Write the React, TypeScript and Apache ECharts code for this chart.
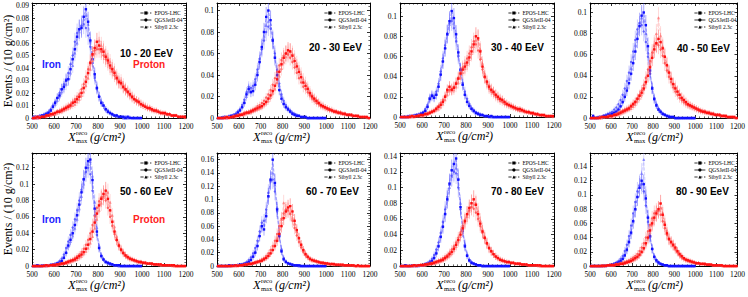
import React, { useEffect, useRef } from "react";
import * as echarts from "echarts";

// bin centres (g/cm^2), 10 g/cm^2 bins
const xBins = [
  505, 515, 525, 535, 545, 555, 565, 575, 585, 595,
  605, 615, 625, 635, 645, 655, 665, 675, 685, 695,
  705, 715, 725, 735, 745, 755, 765, 775, 785, 795,
  805, 815, 825, 835, 845, 855, 865, 875, 885, 895,
  905, 915, 925, 935, 945, 955, 965, 975, 985, 995,
  1005, 1015, 1025, 1035, 1045, 1055, 1065, 1075, 1085, 1095,
  1105, 1115, 1125, 1135, 1145, 1155, 1165, 1175, 1185, 1195,
];

const models = ["EPOS-LHC", "QGSJetII-04", "Sibyll 2.3c"];
const panelLabels = ["10 - 20 EeV", "20 - 30 EeV", "30 - 40 EeV", "40 - 50 EeV", "50 - 60 EeV", "60 - 70 EeV", "70 - 80 EeV", "80 - 90 EeV"];
const yMaxes = [0.092, 0.107, 0.113, 0.109, 0.138, 0.17, 0.144, 0.159];
const ySteps = [0.01, 0.02, 0.02, 0.02, 0.02, 0.02, 0.02, 0.02];
const xTicks = [500, 600, 700, 800, 900, 1000, 1100, 1200];
// approximate number of simulated events per histogram (sets the Poisson error bars)
const eventsPerHistogram = [1200, 1100, 1000, 950, 800, 650, 650, 600];

// ---- 10 - 20 EeV
const fe1E = [0,.001,0,.001,.002,.002,.003,.004,.006,.009, .012,.016,.018,.023,.025,.030,.031,.039,.047,.055, .065,.071,.072,.081,.087,.077,.062,.047,.035,.024, .017,.012,.010,.007,.005,.004,.003,.002,.002,.001, .001,.001,0,.001,0,0,0,0,0,0];
const fe1Q = [.001,0,.001,.002,.002,.003,.004,.005,.007,.010, .013,.016,.020,.023,.027,.031,.036,.043,.050,.061, .068,.071,.074,.075,.072,.066,.057,.044,.032,.023, .017,.013,.010,.007,.006,.004,.003,.002,.002,.001, .001,0,.001,0,0,0,0,0,0,0];
const fe1S = [0,.001,.001,.001,.002,.003,.003,.005,.006,.009, .011,.014,.017,.021,.024,.027,.032,.036,.042,.052, .060,.069,.074,.079,.082,.075,.061,.047,.034,.025, .018,.013,.010,.007,.005,.004,.003,.002,.001,.001, .001,0,0,0,.001,0,0,0,0,0];
const p1E = [0,0,.001,0,.001,.001,.002,.002,.003,.003, .004,.005,.005,.006,.007,.008,.009,.010,.012,.013, .015,.017,.020,.024,.029,.036,.044,.051,.056,.061, .058,.055,.053,.049,.046,.042,.039,.036,.032,.029, .028,.025,.023,.021,.019,.017,.015,.014,.013,.011, .010,.009,.008,.008,.007,.006,.006,.005,.004,.004, .004,.003,.003,.002,.002,.002,.001,.001,.001,.001];
const p1Q = [0,.001,0,.001,.001,.001,.002,.002,.003,.004, .004,.005,.006,.007,.008,.009,.010,.011,.013,.015, .017,.019,.023,.027,.033,.039,.045,.050,.054,.055, .055,.053,.050,.047,.044,.040,.037,.034,.031,.028, .027,.024,.022,.020,.018,.016,.015,.013,.012,.011, .010,.009,.008,.007,.006,.006,.005,.005,.004,.004, .003,.003,.003,.002,.002,.002,.001,.001,.001,0];
const p1S = [0,0,0,.001,.001,.001,.001,.002,.002,.003, .003,.004,.005,.005,.006,.007,.008,.009,.010,.011, .013,.015,.018,.021,.026,.032,.039,.046,.052,.057, .062,.058,.055,.051,.048,.045,.041,.038,.034,.031, .030,.027,.024,.022,.020,.018,.016,.014,.013,.012, .011,.010,.009,.008,.007,.006,.006,.005,.005,.004, .004,.003,.003,.002,.002,.002,.001,.001,.001,.001];

// ---- 20 - 30 EeV
const fe2E = [0,0,0,.001,0,.001,.002,.002,.003,.005, .007,.010,.014,.022,.027,.024,.025,.031,.040,.052, .066,.080,.094,.100,.091,.072,.056,.040,.026,.018, .013,.010,.008,.006,.004,.003,.002,.002,.001,.001, .001,0,0,0,0,0,0,0,0,0];
const fe2Q = [0,0,.001,.001,.001,.002,.002,.003,.004,.006, .008,.012,.017,.024,.029,.028,.030,.036,.045,.055, .064,.072,.080,.085,.083,.073,.060,.045,.032,.022, .016,.012,.009,.007,.005,.004,.003,.002,.001,.001, .001,0,0,0,0,0,0,0,0,0];
const fe2S = [0,0,0,.001,.001,.001,.002,.003,.004,.005, .008,.011,.015,.020,.025,.026,.028,.034,.043,.054, .065,.076,.086,.090,.087,.074,.058,.043,.030,.021, .015,.011,.008,.006,.004,.003,.002,.002,.001,.001, .001,0,0,0,0,0,0,0,0,0];
const p2E = [0,0,0,0,.001,0,.001,.001,.002,.002, .003,.003,.004,.005,.005,.006,.007,.008,.009,.010, .011,.013,.015,.018,.021,.025,.030,.036,.043,.050, .056,.060,.063,.062,.058,.053,.048,.043,.038,.033, .030,.027,.023,.020,.018,.016,.014,.012,.011,.010, .009,.008,.007,.006,.006,.005,.005,.004,.004,.003, .003,.003,.002,.002,.002,.001,.001,.001,.001,0];
const p2Q = [0,0,0,.001,0,.001,.001,.002,.002,.003, .003,.004,.005,.005,.006,.007,.008,.009,.011,.012, .014,.016,.019,.022,.026,.031,.037,.043,.049,.054, .058,.060,.059,.056,.052,.047,.042,.037,.033,.029, .027,.024,.021,.018,.016,.014,.013,.011,.010,.009, .008,.007,.007,.006,.005,.005,.004,.004,.003,.003, .003,.002,.002,.002,.001,.001,.001,.001,0,0];
const p2S = [0,0,0,0,0,.001,.001,.001,.001,.002, .002,.003,.003,.004,.005,.005,.006,.007,.008,.009, .010,.012,.014,.016,.019,.023,.027,.033,.039,.046, .052,.057,.061,.062,.060,.056,.051,.046,.041,.036, .033,.029,.025,.022,.019,.017,.015,.013,.012,.010, .009,.008,.008,.007,.006,.005,.005,.004,.004,.003, .003,.003,.002,.002,.002,.001,.001,.001,.001,0];

// ---- 30 - 40 EeV
const fe3E = [0,0,0,0,.001,.001,.001,.002,.002,.003, .004,.006,.010,.018,.021,.019,.022,.030,.042,.055, .068,.082,.095,.105,.098,.082,.064,.047,.032,.022, .015,.011,.008,.006,.004,.003,.002,.002,.001,.001, 0,.001,0,0,0,0,0,0,0,0];
const fe3Q = [0,0,0,.001,.001,.001,.002,.002,.003,.004, .005,.008,.012,.019,.022,.021,.025,.033,.045,.058, .071,.083,.093,.095,.088,.075,.060,.046,.034,.025, .018,.013,.009,.007,.005,.004,.003,.002,.001,.001, .001,0,0,0,0,0,0,0,0,0];
const fe3S = [0,0,0,0,.001,.001,.001,.002,.002,.003, .004,.007,.011,.017,.020,.020,.023,.031,.043,.056, .069,.082,.092,.098,.093,.079,.062,.046,.033,.023, .016,.012,.009,.006,.004,.003,.002,.002,.001,.001, .001,0,0,0,0,0,0,0,0,0];
const p3E = [0,0,0,0,0,.001,0,.001,.001,.002, .002,.003,.003,.004,.005,.006,.008,.010,.012,.015, .020,.027,.030,.027,.029,.033,.038,.043,.047,.050, .054,.059,.065,.072,.080,.078,.065,.050,.040,.035, .030,.027,.025,.022,.020,.018,.017,.015,.013,.012, .011,.010,.009,.008,.008,.007,.006,.005,.005,.004, .004,.003,.003,.002,.002,.002,.001,.001,.001,.001];
const p3Q = [0,0,0,0,.001,.001,.001,.001,.002,.002, .002,.003,.004,.005,.006,.007,.009,.011,.014,.017, .021,.025,.027,.028,.030,.034,.039,.044,.049,.053, .058,.063,.069,.075,.072,.066,.057,.047,.039,.033, .028,.025,.023,.020,.018,.016,.015,.013,.012,.011, .010,.009,.008,.007,.006,.006,.005,.005,.004,.004, .003,.003,.002,.002,.002,.001,.001,.001,.001,0];
const p3S = [0,0,0,0,0,0,.001,.001,.001,.001, .001,.002,.003,.004,.005,.006,.007,.008,.010,.013, .017,.022,.026,.026,.027,.030,.034,.039,.044,.048, .052,.057,.063,.070,.076,.077,.067,.053,.043,.036, .032,.028,.025,.023,.021,.019,.017,.015,.014,.012, .011,.010,.009,.008,.007,.007,.006,.005,.005,.004, .004,.003,.003,.002,.002,.002,.001,.001,.001,.001];

// ---- 40 - 50 EeV
const fe4E = [0,.002,0,0,.001,.001,.002,.002,.003,.003, .004,.005,.006,.008,.011,.015,.020,.026,.033,.042, .052,.063,.075,.087,.097,.100,.088,.068,.045,.028, .018,.012,.008,.006,.004,.003,.002,.001,.001,.001, 0,0,0,0,0,0,0,0,0,0];
const fe4Q = [0,0,0,.001,.001,.001,.002,.003,.004,.005, .006,.008,.010,.013,.017,.022,.028,.035,.043,.053, .063,.074,.084,.090,.088,.082,.072,.058,.042,.029, .019,.013,.009,.006,.004,.003,.002,.002,.001,.001, 0,0,0,0,0,0,0,0,0,0];
const fe4S = [0,0,0,0,.001,.001,.001,.002,.002,.003, .004,.005,.007,.009,.012,.017,.022,.029,.037,.047, .058,.069,.080,.090,.095,.092,.080,.062,.043,.028, .018,.012,.008,.006,.004,.003,.002,.001,.001,.001, 0,0,0,0,0,0,0,0,0,0];
const p4E = [0,0,0,0,0,.001,.001,.001,.001,.002, .002,.003,.003,.004,.005,.006,.007,.008,.009,.011, .013,.015,.018,.021,.024,.028,.034,.040,.048,.057, .065,.071,.075,.072,.066,.058,.050,.043,.037,.032, .028,.025,.022,.019,.017,.015,.013,.012,.011,.010, .009,.008,.007,.006,.006,.005,.005,.004,.004,.003, .003,.003,.002,.002,.002,.001,.001,.001,.001,0];
const p4Q = [0,0,0,0,.001,.001,.001,.001,.002,.002, .002,.003,.004,.005,.006,.007,.008,.009,.010,.012, .014,.016,.019,.022,.026,.031,.038,.046,.054,.062, .068,.070,.069,.065,.059,.052,.045,.039,.034,.029, .025,.022,.019,.017,.015,.013,.012,.011,.010,.009, .008,.007,.006,.006,.005,.005,.004,.004,.003,.003, .003,.002,.002,.002,.001,.001,.001,.001,0,0];
const p4S = [0,0,0,0,0,0,.001,.001,.001,.001, .001,.002,.003,.003,.004,.005,.006,.007,.008,.009, .011,.013,.016,.019,.022,.027,.033,.041,.050,.060, .070,.080,.095,.078,.068,.059,.051,.044,.038,.033, .030,.026,.023,.020,.018,.016,.014,.012,.011,.010, .009,.008,.007,.007,.006,.005,.005,.004,.004,.003, .003,.003,.002,.002,.002,.001,.001,.001,.001,0];

// ---- 50 - 60 EeV
const fe5E = [0,0,.001,0,0,.001,0,.001,.001,.002, .002,.003,.004,.006,.010,.016,.025,.032,.040,.050, .062,.075,.090,.106,.120,.128,.130,.105,.070,.042, .022,.012,.008,.005,.004,.003,.002,.001,.001,.001, 0,0,0,0,0,0,0,0,0,0];
const fe5Q = [0,0,0,0,.001,.001,.001,.001,.002,.002, .003,.004,.006,.009,.014,.022,.030,.038,.047,.057, .068,.080,.093,.105,.115,.120,.112,.092,.062,.038, .022,.013,.008,.005,.003,.002,.002,.001,.001,0, 0,0,0,0,0,0,0,0,0,0];
const fe5S = [0,0,0,0,0,.001,.001,.001,.001,.002, .002,.003,.005,.007,.011,.017,.024,.030,.037,.046, .057,.070,.085,.100,.115,.124,.128,.110,.078,.047, .025,.013,.008,.005,.003,.002,.002,.001,.001,0, 0,0,0,0,0,0,0,0,0,0];
const p5E = [0,0,0,0,0,0,.001,0,.001,.001, .001,.002,.002,.003,.003,.004,.005,.006,.007,.008, .010,.012,.014,.017,.021,.026,.033,.042,.053,.064, .074,.082,.088,.092,.082,.068,.054,.042,.032,.025, .020,.016,.013,.011,.009,.008,.007,.006,.005,.005, .004,.004,.003,.003,.003,.002,.002,.002,.002,.001, .001,.001,.001,.001,.001,0,0,0,0,0];
const p5Q = [0,0,0,0,0,.001,.001,.001,.001,.002, .002,.002,.003,.003,.004,.005,.006,.007,.008,.010, .012,.014,.017,.021,.026,.032,.040,.050,.061,.071, .079,.084,.085,.080,.071,.060,.049,.039,.031,.024, .019,.015,.012,.010,.009,.008,.007,.006,.005,.004, .004,.003,.003,.003,.002,.002,.002,.001,.001,.001, .001,.001,.001,0,0,0,0,0,0,0];
const p5S = [0,0,0,0,0,0,0,.001,.001,.001, .001,.001,.002,.002,.003,.003,.004,.005,.006,.007, .008,.010,.012,.015,.018,.022,.028,.036,.046,.057, .068,.077,.084,.088,.090,.078,.062,.048,.036,.027, .021,.017,.014,.011,.009,.008,.007,.006,.005,.005, .004,.004,.003,.003,.003,.002,.002,.002,.001,.001, .001,.001,.001,.001,0,0,0,0,0,0];

// ---- 60 - 70 EeV
const fe6E = [0,0,0,0,0,.001,0,.001,.001,.001, .002,.002,.003,.004,.006,.009,.014,.020,.030,.045, .060,.055,.075,.105,.130,.160,.125,.085,.045,.022, .010,.006,.004,.003,.002,.001,.001,.001,0,0, 0,0,0,0,0,0,0,0,0,0];
const fe6Q = [0,0,0,0,0,.001,.001,.001,.001,.002, .002,.003,.004,.006,.009,.013,.019,.027,.038,.052, .065,.068,.085,.110,.128,.130,.112,.082,.048,.025, .012,.007,.004,.003,.002,.001,.001,0,0,0, 0,0,0,0,0,0,0,0,0,0];
const fe6S = [0,0,0,0,0,0,.001,.001,.001,.001, .001,.002,.003,.005,.007,.010,.015,.022,.032,.046, .060,.062,.080,.105,.128,.140,.122,.088,.050,.025, .012,.007,.004,.003,.002,.001,.001,0,0,0, 0,0,0,0,0,0,0,0,0,0];
const p6E = [0,0,0,0,0,0,0,0,.001,0, .001,.001,.002,.002,.003,.003,.004,.005,.006,.007, .008,.010,.012,.015,.019,.024,.030,.038,.048,.060, .072,.082,.088,.090,.082,.068,.054,.042,.032,.024, .018,.014,.011,.009,.008,.007,.006,.005,.005,.004, .004,.003,.003,.003,.002,.002,.002,.002,.001,.001, .001,.001,.001,0,.001,0,0,0,0,0];
const p6Q = [0,0,0,0,0,0,.001,0,.001,.001, .001,.002,.002,.003,.003,.004,.005,.006,.007,.008, .010,.012,.015,.019,.024,.030,.038,.048,.060,.071, .079,.085,.084,.078,.068,.057,.046,.036,.028,.021, .016,.013,.010,.009,.008,.007,.006,.005,.004,.004, .003,.003,.003,.002,.002,.002,.001,.001,.001,.001, .001,.001,0,0,0,0,0,0,0,0];
const p6S = [0,0,0,0,0,0,0,.001,0,.001, .001,.001,.002,.002,.003,.003,.004,.005,.006,.007, .008,.010,.013,.016,.020,.025,.032,.042,.055,.070, .095,.085,.084,.080,.072,.063,.052,.041,.032,.024, .018,.014,.011,.009,.008,.007,.006,.005,.004,.004, .003,.003,.003,.002,.002,.002,.002,.001,.001,.001, .001,.001,.001,0,0,0,0,0,0,0];

// ---- 70 - 80 EeV
const fe7E = [0,0,.001,0,0,.001,0,.001,0,.001, .001,.002,.003,.004,.006,.010,.016,.025,.037,.050, .066,.085,.105,.122,.130,.137,.110,.075,.045,.025, .013,.007,.004,.003,.002,.001,.001,0,0,0, 0,0,0,0,0,0,0,0,0,0];
const fe7Q = [0,0,0,0,0,.001,.001,.001,.001,.001, .002,.003,.004,.006,.009,.014,.021,.030,.042,.056, .072,.088,.103,.115,.120,.118,.100,.072,.046,.027, .014,.008,.005,.003,.002,.001,.001,0,0,0, 0,0,0,0,0,0,0,0,0,0];
const fe7S = [0,0,0,0,0,0,.001,0,.001,.001, .001,.002,.003,.005,.008,.012,.018,.027,.039,.052, .068,.084,.100,.114,.122,.125,.112,.080,.050,.028, .015,.008,.005,.003,.002,.001,.001,0,0,0, 0,0,0,0,0,0,0,0,0,0];
const p7E = [0,0,0,0,0,0,.001,0,.001,.001, .001,.002,.002,.003,.003,.004,.005,.006,.007,.008, .010,.012,.015,.018,.022,.027,.033,.040,.048,.057, .066,.074,.080,.085,.078,.066,.054,.044,.036,.029, .023,.019,.015,.012,.010,.008,.007,.006,.005,.005, .004,.004,.003,.003,.003,.002,.002,.002,.001,.001, .001,.001,.001,.001,0,0,0,0,0,0];
const p7Q = [0,0,0,0,0,.001,.001,.001,.001,.002, .002,.002,.003,.003,.004,.005,.006,.007,.008,.010, .012,.014,.017,.021,.025,.030,.036,.043,.051,.059, .066,.071,.075,.073,.068,.060,.051,.042,.035,.028, .022,.018,.015,.012,.010,.008,.007,.006,.005,.005, .004,.004,.003,.003,.002,.002,.002,.001,.001,.001, .001,.001,0,0,0,0,0,0,0,0];
const p7S = [0,0,0,0,0,0,0,.001,.001,.001, .001,.001,.002,.002,.003,.003,.004,.005,.006,.007, .009,.011,.013,.016,.020,.025,.031,.038,.046,.055, .063,.070,.076,.079,.080,.070,.058,.047,.038,.030, .024,.019,.016,.013,.011,.009,.008,.007,.006,.005, .004,.004,.003,.003,.003,.002,.002,.002,.001,.001, .001,.001,.001,0,0,0,0,0,0,0];

// ---- 80 - 90 EeV
const fe8E = [0,0,0,0,0,0,0,.001,.001,.001, .002,.003,.004,.005,.007,.010,.015,.023,.034,.047, .063,.080,.097,.110,.120,.115,.095,.068,.042,.024, .013,.008,.005,.003,.002,.001,.001,0,0,0, 0,0,0,0,0,0,0,0,0,0];
const fe8Q = [0,0,0,0,0,0,.001,.001,.001,.002, .002,.003,.005,.007,.010,.014,.021,.030,.042,.057, .074,.090,.105,.113,.115,.105,.085,.062,.040,.024, .013,.008,.005,.003,.002,.001,.001,0,0,0, 0,0,0,0,0,0,0,0,0,0];
const fe8S = [0,0,0,0,0,0,.001,0,.001,.001, .001,.002,.003,.005,.007,.010,.015,.022,.033,.046, .062,.080,.098,.115,.130,.150,.100,.070,.043,.025, .013,.007,.004,.003,.002,.001,.001,0,0,0, 0,0,0,0,0,0,0,0,0,0];
const p8E = [0,0,0,0,0,0,0,0,.001,.001, .001,.001,.002,.002,.003,.003,.004,.005,.006,.007, .009,.011,.013,.016,.020,.025,.032,.040,.050,.060, .068,.074,.080,.088,.072,.058,.046,.038,.034,.030, .026,.021,.017,.014,.011,.009,.008,.007,.006,.005, .004,.004,.003,.003,.003,.002,.002,.002,.001,.001, .001,.001,.001,0,0,0,0,0,0,0];
const p8Q = [0,0,0,0,0,.001,.001,.001,.001,.002, .002,.002,.003,.003,.004,.005,.006,.007,.008,.010, .012,.014,.017,.021,.026,.032,.040,.049,.058,.067, .074,.077,.078,.072,.063,.053,.044,.037,.032,.028, .023,.019,.015,.012,.010,.008,.007,.006,.005,.005, .004,.004,.003,.003,.002,.002,.002,.001,.001,.001, .001,.001,0,0,0,0,0,0,0,0];
const p8S = [0,0,0,0,0,0,0,.001,.001,.001, .001,.001,.002,.002,.003,.003,.004,.005,.006,.007, .008,.010,.012,.015,.019,.024,.030,.038,.048,.058, .066,.073,.078,.082,.075,.062,.050,.040,.034,.029, .025,.020,.016,.013,.011,.009,.008,.007,.006,.005, .004,.004,.003,.003,.003,.002,.002,.002,.001,.001, .001,.001,.001,0,0,0,0,0,0,0];

const ironSets = [
  [fe1E, fe1Q, fe1S], [fe2E, fe2Q, fe2S], [fe3E, fe3Q, fe3S], [fe4E, fe4Q, fe4S],
  [fe5E, fe5Q, fe5S], [fe6E, fe6Q, fe6S], [fe7E, fe7Q, fe7S], [fe8E, fe8Q, fe8S],
];
const protonSets = [
  [p1E, p1Q, p1S], [p2E, p2Q, p2S], [p3E, p3Q, p3S], [p4E, p4Q, p4S],
  [p5E, p5Q, p5S], [p6E, p6Q, p6S], [p7E, p7Q, p7S], [p8E, p8Q, p8S],
];

// ---- layout / style
const gridBoxes = [
  { left: 32, top: 3, width: 154, height: 115 },
  { left: 217, top: 3, width: 153, height: 115 },
  { left: 400, top: 3, width: 154, height: 114 },
  { left: 590, top: 3, width: 150, height: 115 },
  { left: 32, top: 153, width: 154, height: 113 },
  { left: 217, top: 153, width: 153, height: 113 },
  { left: 400, top: 153, width: 154, height: 113 },
  { left: 590, top: 153, width: 150, height: 113 },
];
const ironMarker = ["#1010ff", "rgba(80,80,255,0.8)", "rgba(120,120,255,0.8)"];
const ironBar = ["rgba(40,40,255,0.5)", "rgba(110,110,255,0.42)", "rgba(140,140,255,0.42)"];
const protonMarker = ["#ff1010", "rgba(255,80,80,0.8)", "rgba(255,120,120,0.8)"];
const protonBar = ["rgba(255,40,40,0.5)", "rgba(255,110,110,0.42)", "rgba(255,140,140,0.42)"];
const modelSymbols = ["rect", "circle", "triangle"];
const modelDash = ["dashed", "solid", "dashed"];
const SERIF = "Liberation Serif";
const SANS = "Liberation Sans";

function buildOption() {
  const grid: any[] = [];
  const xAxis: any[] = [];
  const yAxis: any[] = [];
  const series: any[] = [];
  const legend: any[] = [];
  const graphic: any[] = [];

  gridBoxes.forEach((g, p) => {
    grid.push({ left: g.left, top: g.top, width: g.width, height: g.height });
    const step = ySteps[p];
    const yMax = yMaxes[p];
    const nEv = eventsPerHistogram[p];
    const common = {
      gridIndex: p,
      type: "value",
      splitLine: { show: false },
      axisLine: { show: true, onZero: false, lineStyle: { color: "#000", width: 1 } },
      axisTick: { show: true, inside: true, length: 3, lineStyle: { color: "#000", width: 0.8 } },
      minorTick: { show: true, splitNumber: 5, length: 1.6, lineStyle: { color: "#000", width: 0.6 } },
    };
    xAxis.push({
      ...common, position: "bottom", min: xTicks[0], max: xTicks[xTicks.length - 1], interval: 100,
      axisLabel: { show: true, color: "#000", fontFamily: SERIF, fontSize: 7.5, margin: 4, formatter: (v: number) => String(v) },
    });
    xAxis.push({
      ...common, position: "top", min: xTicks[0], max: xTicks[xTicks.length - 1], interval: 100,
      axisLabel: { show: false },
    });
    yAxis.push({
      ...common, position: "left", min: 0, max: yMax, interval: step,
      axisLabel: {
        show: true, color: "#000", fontFamily: SERIF, fontSize: 7.5, margin: 3,
        formatter: (v: number) => {
          const k = v / step;
          if (Math.abs(k - Math.round(k)) > 1e-6) return "";
          return v === 0 ? "0" : String(+v.toFixed(3));
        },
      },
    });
    yAxis.push({
      ...common, position: "right", min: 0, max: yMax, interval: step,
      axisLabel: { show: false },
    });

    const addSeries = (sets: number[][], markers: string[], bars: string[], z: number) => {
      sets.forEach((arr, m) => {
        const pts = arr.map((v, i) => [xBins[i], v]);
        series.push({
          type: "line",
          name: models[m],
          xAxisIndex: 2 * p,
          yAxisIndex: 2 * p,
          data: pts,
          symbol: modelSymbols[m],
          symbolSize: m === 2 ? 3 : 2.4,
          showSymbol: true,
          lineStyle: { color: bars[m], width: 0.8, type: modelDash[m] },
          itemStyle: { color: markers[m] },
          z: z + 1 + (2 - m),
          silent: true,
        });
        // Poisson error bars
        series.push({
          type: "custom",
          name: models[m] + " (stat. error)",
          xAxisIndex: 2 * p,
          yAxisIndex: 2 * p,
          data: pts,
          silent: true,
          z: z,
          renderItem: (_params: any, api: any) => {
            const x = api.value(0);
            const y = api.value(1);
            if (!(y > 0)) return null;
            const e = Math.sqrt(y / nEv);
            const hi = api.coord([x, Math.min(yMax, y + e)]);
            const lo = api.coord([x, Math.max(0, y - e)]);
            const l = api.coord([x - 5, y]);
            const r = api.coord([x + 5, y]);
            const st = { stroke: bars[m], lineWidth: 0.8 };
            return {
              type: "group",
              children: [
                { type: "line", shape: { x1: hi[0], y1: hi[1], x2: lo[0], y2: lo[1] }, style: st },
                { type: "line", shape: { x1: l[0], y1: l[1], x2: r[0], y2: r[1] }, style: st },
              ],
            };
          },
        });
      });
    };
    addSeries(ironSets[p], ironMarker, ironBar, 2);
    addSeries(protonSets[p], protonMarker, protonBar, 6);

    legend.push({
      data: models,
      orient: "vertical",
      left: g.left + g.width - 46,
      top: g.top + 7,
      itemWidth: 11,
      itemHeight: 4,
      itemGap: 1,
      padding: 0,
      selectedMode: false,
      textStyle: { fontFamily: SERIF, fontSize: 5.5, color: "#000", lineHeight: 6, padding: [0, 0, 0, -2] },
      itemStyle: { color: "#000" },
      lineStyle: { color: "#000", width: 0.8 },
    });

    const bottom = g.top + g.height;
    graphic.push({
      type: "group", x: g.left + 36, y: bottom + 19,
      children: [
        { type: "text", x: 0, y: 0, style: { text: "X", fontFamily: SERIF, fontStyle: "italic", fontSize: 12.5, fill: "#000", verticalAlign: "middle" } },
        { type: "text", x: 8, y: -4.5, style: { text: "reco", fontFamily: SERIF, fontSize: 6.5, fill: "#000", verticalAlign: "middle" } },
        { type: "text", x: 8, y: 3, style: { text: "max", fontFamily: SERIF, fontSize: 6.5, fill: "#000", verticalAlign: "middle" } },
        { type: "text", x: 22, y: 0, style: { text: "(g/cm²)", fontFamily: SERIF, fontStyle: "italic", fontSize: 12, fill: "#000", verticalAlign: "middle" } },
      ],
    });
    const labelPos = [
      [120, 53], [309, 47], [491, 47], [677, 48], [120, 191], [306, 191], [491, 191], [676, 191],
    ][p];
    graphic.push({
      type: "text", x: labelPos[0], y: labelPos[1], z: 100,
      style: { text: panelLabels[p], fontFamily: SANS, fontWeight: "bold", fontSize: 10, fill: "#000", verticalAlign: "middle" },
    });
  });

  [61, 209].forEach((cy) => {
    graphic.push({
      type: "text", x: 8, y: cy, rotation: Math.PI / 2,
      style: { text: "Events / (10 g/cm²)", fontFamily: SERIF, fontSize: 12, fill: "#000", align: "center", verticalAlign: "middle" },
    });
  });
  [[42, 64], [42, 219]].forEach(([x, y]) => {
    graphic.push({ type: "text", x, y, z: 100, style: { text: "Iron", fontFamily: SANS, fontWeight: "bold", fontSize: 10, fill: "#2222ff", verticalAlign: "middle" } });
  });
  [[133, 64], [133, 219]].forEach(([x, y]) => {
    graphic.push({ type: "text", x, y, z: 100, style: { text: "Proton", fontFamily: SANS, fontWeight: "bold", fontSize: 10, fill: "#ff2222", verticalAlign: "middle" } });
  });

  return { animation: false, backgroundColor: "#fff", grid, xAxis, yAxis, series, legend, graphic };
}

export default function App() {
  const ref = useRef<HTMLDivElement>(null);
  useEffect(() => {
    if (!ref.current) return;
    const chart = echarts.init(ref.current, null, { renderer: "svg" });
    chart.setOption(buildOption() as any);
    return () => chart.dispose();
  }, []);
  return <div ref={ref} style={{ position: "absolute", left: 0, top: 0, width: 748, height: 297 }} />;
}
